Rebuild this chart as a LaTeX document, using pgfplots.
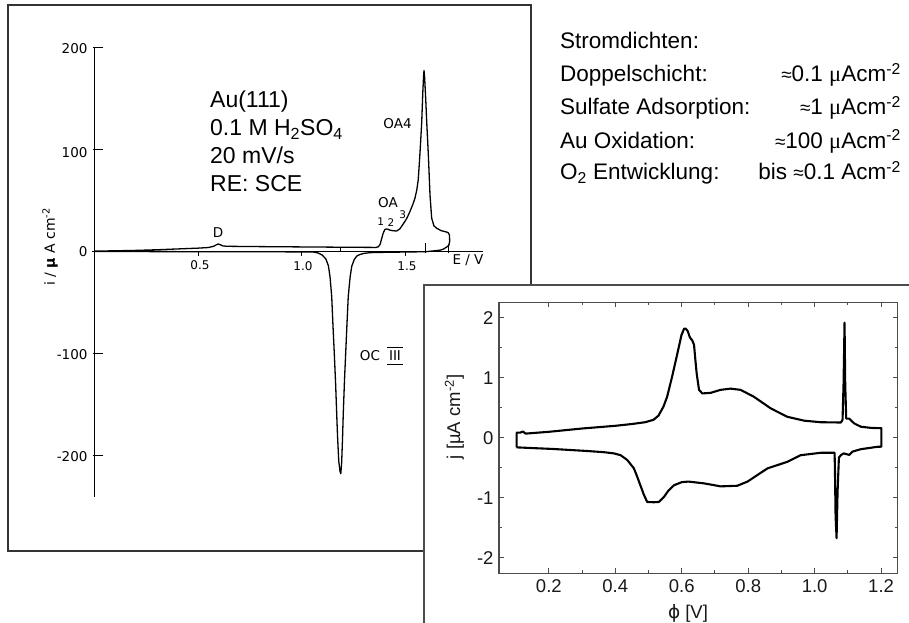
\documentclass[border=0pt]{standalone}
\usepackage{pgfplots}
\pgfplotsset{compat=1.18}
\usepackage{fontspec}
\setmainfont{Liberation Sans}
\newfontfamily\oldfont{DejaVu Sans}
\newfontfamily\serifmu{Liberation Serif}

% cyclic voltammogram of Au(111), large current range
\pgfplotstableread{
E i
0 0.3
0.1 0.6
0.2 1.0
0.3 1.6
0.4 2.4
0.5 3.2
0.55 3.8
0.575 5.0
0.59 6.6
0.598 7.3
0.607 6.6
0.62 5.4
0.64 5.0
0.8 4.7
1.0 4.4
1.2 4.1
1.36 3.9
1.372 4.6
1.38 7
1.388 13
1.395 18
1.403 21.5
1.413 22
1.428 20.8
1.443 20.2
1.46 20
1.475 22
1.492 27
1.508 32
1.524 39
1.538 46
1.548 52
1.557 60
1.564 70
1.570 88
1.575 105
1.581 127
1.586 155
1.590 172
1.592 177
1.595 170
1.600 150
1.605 127
1.613 94
1.621 55
1.629 32.5
1.64 25
1.653 22.7
1.675 20.3
1.693 19.4
1.708 18.5
1.715 16
1.716 10
1.712 6
1.701 4.2
1.685 2.2
1.669 1.2
1.637 0.5
1.6 -0.3
1.5 -0.6
1.4 -0.9
1.33 -1.2
1.30 -2
1.28 -3.2
1.267 -4.6
1.255 -8
1.243 -14.4
1.235 -25
1.226 -44
1.22 -70
1.215 -93
1.208 -125
1.202 -158
1.198 -185
1.194 -207
1.190 -217.5
1.186 -215
1.180 -205
1.174 -180
1.170 -158
1.165 -130
1.159 -102
1.152 -72
1.146 -44
1.138 -25
1.13 -14
1.118 -7.5
1.1 -3.5
1.08 -1.5
1.057 -0.6
0.9 -0.4
0.6 -0.3
0.3 -0.2
0.1 -0.1
0 0
}\auwide

% cyclic voltammogram in the double layer / sulfate region
\pgfplotstableread{
p j
0.103 -0.158
0.103 0.085
0.115 0.088
0.122 0.105
0.13 0.07
0.2 0.1
0.3 0.155
0.4 0.2
0.45 0.23
0.49 0.26
0.515 0.3
0.53 0.37
0.545 0.52
0.556 0.685
0.571 1.02
0.587 1.41
0.599 1.71
0.607 1.82
0.612 1.82
0.618 1.78
0.624 1.68
0.632 1.62
0.637 1.55
0.641 1.3
0.645 1.07
0.652 0.80
0.662 0.74
0.687 0.75
0.717 0.80
0.747 0.82
0.777 0.80
0.817 0.685
0.868 0.49
0.918 0.35
0.968 0.286
1.018 0.26
1.079 0.255
1.084 0.3
1.087 0.9
1.09 1.92
1.092 0.9
1.095 0.32
1.104 0.32
1.119 0.24
1.139 0.185
1.17 0.165
1.201 0.16
1.201 -0.148
1.189 -0.15
1.139 -0.19
1.114 -0.23
1.104 -0.285
1.094 -0.27
1.087 -0.26
1.079 -0.29
1.073 -0.33
1.069 -0.9
1.066 -1.675
1.063 -1.3
1.061 -0.5
1.06 -0.25
1.018 -0.25
0.958 -0.29
0.918 -0.4
0.858 -0.51
0.817 -0.66
0.798 -0.73
0.767 -0.80
0.717 -0.81
0.667 -0.76
0.62 -0.73
0.6 -0.74
0.577 -0.79
0.56 -0.88
0.546 -0.99
0.531 -1.07
0.516 -1.075
0.496 -1.07
0.486 -0.95
0.466 -0.65
0.456 -0.51
0.436 -0.37
0.416 -0.29
0.396 -0.26
0.366 -0.24
0.315 -0.22
0.215 -0.187
0.105 -0.16
0.103 -0.158
}\ausmall

\begin{document}
\begin{tikzpicture}[x=1pt,y=1pt]
\clip (0,0) rectangle (909,622);
\fill[white] (0,0) rectangle (909,622);

% left panel frame
\draw[line width=1.2pt, black!80] (8,617) rectangle (531,71);

\begin{axis}[
  at={(94.5pt,125.3pt)}, anchor=south west,
  scale only axis, width=388.5pt, height=449.7pt,
  xmin=0, xmax=1.877, ymin=-240, ymax=200,
  hide axis, clip=false]
  % axes and hand-placed ticks
  \draw[line width=0.9pt] (axis cs:0,-240) -- (axis cs:0,200);
  \draw[line width=0.9pt] (axis cs:-0.012,0) -- (axis cs:1.877,0);
  \draw[line width=0.8pt] (axis cs:-0.005,-200) -- (axis cs:0.042,-200);
  \draw[line width=0.8pt] (axis cs:-0.005,-100) -- (axis cs:0.042,-100);
  \draw[line width=0.8pt] (axis cs:-0.005,100) -- (axis cs:0.042,100);
  \draw[line width=0.8pt] (axis cs:-0.005,200) -- (axis cs:0.042,200);
  \draw[line width=0.8pt] (axis cs:0.5,0) -- (axis cs:0.5,-4.5);
  \draw[line width=0.8pt] (axis cs:1.0,0) -- (axis cs:1.0,-4.5);
  \draw[line width=0.8pt] (axis cs:1.5,0) -- (axis cs:1.5,-4.5);
  \draw[line width=0.8pt] (axis cs:1.19,0) -- (axis cs:1.19,4.5);
  \draw[line width=0.8pt] (axis cs:1.597,-2) -- (axis cs:1.597,8);
  \draw[line width=0.8pt] (axis cs:1.708,-2) -- (axis cs:1.708,7);
  \addplot[black, line width=1.3pt, line join=round] table[x=E, y=i] {\auwide};
\end{axis}

% left panel lettering
\begin{scope}[font=\oldfont\fontsize{13.5}{14}\selectfont]
  \node[anchor=east] at (91,573) {200};
  \node[anchor=east] at (91,469.3) {100};
  \node[anchor=east] at (91,370) {0};
  \node[anchor=east] at (91,267) {-100};
  \node[anchor=east] at (91,165) {-200};
  \node[font=\oldfont\fontsize{12}{12}\selectfont] at (200,357) {0.5};
  \node[font=\oldfont\fontsize{12}{12}\selectfont] at (303,356) {1.0};
  \node[font=\oldfont\fontsize{12}{12}\selectfont] at (407,356) {1.5};
  \node at (468,362) {E / V};
  \node at (218,389) {D};
  \node at (388,419) {OA};
  \node[font=\oldfont\fontsize{10.5}{10}\selectfont] at (380.7,400.3) {1};
  \node[font=\oldfont\fontsize{10.5}{10}\selectfont] at (391,399) {2};
  \node[font=\oldfont\fontsize{10.5}{10}\selectfont] at (402.7,407) {3};
  \node at (397.5,498) {OA4};
  \node at (370,266) {OC};
  \node at (395,266) {III};
  \draw[line width=0.9pt] (387,275) -- (403,275);
  \draw[line width=0.9pt] (387,258) -- (403,258);
  \node[rotate=90, font=\oldfont\fontsize{14}{14}\selectfont] at (50,375)
    {i / {\bfseries µ} A cm\textsuperscript{-2}};
\end{scope}

% sample conditions
\begin{scope}[font=\fontsize{23}{23}\selectfont]
  \node[anchor=base west, inner sep=0pt] at (210,514.7) {Au(111)};
  \node[anchor=base west, inner sep=0pt] at (210,486) {0.1 M H\textsubscript{2}SO\textsubscript{4}};
  \node[anchor=base west, inner sep=0pt] at (210,458.7) {20 mV/s};
  \node[anchor=base west, inner sep=0pt] at (210,430.3) {RE: SCE};
\end{scope}

% current densities
\begin{scope}[font=\fontsize{22.5}{23}\selectfont]
  \node[anchor=base west, inner sep=0pt] at (560,573.7) {Stromdichten:};
  \node[anchor=base west, inner sep=0pt] at (560,540.3) {Doppelschicht:};
  \node[anchor=base west, inner sep=0pt] at (560,507) {Sulfate Adsorption:};
  \node[anchor=base west, inner sep=0pt] at (560,473.7) {Au Oxidation:};
  \node[anchor=base west, inner sep=0pt] at (560,442) {O\textsubscript{2} Entwicklung:};
  \node[anchor=base east, inner sep=0pt] at (901,540.3) {{\fontsize{19}{19}\selectfont≈}0.1 {\serifmu μ}Acm\textsuperscript{-2}};
  \node[anchor=base east, inner sep=0pt] at (901,507) {{\fontsize{19}{19}\selectfont≈}1 {\serifmu μ}Acm\textsuperscript{-2}};
  \node[anchor=base east, inner sep=0pt] at (901,473.7) {{\fontsize{19}{19}\selectfont≈}100 {\serifmu μ}Acm\textsuperscript{-2}};
  \node[anchor=base east, inner sep=0pt] at (901,442) {bis {\fontsize{19}{19}\selectfont≈}0.1 Acm\textsuperscript{-2}};
\end{scope}

% inset panel
\fill[white] (424,337) rectangle (915,-5);
\draw[line width=1.3pt, black!70] (424,337) rectangle (915,-5);

\begin{axis}[
  at={(499pt,48.7pt)}, anchor=south west,
  scale only axis, width=398.7pt, height=271pt,
  xmin=0.05, xmax=1.25, ymin=-2.26, ymax=2.26,
  xtick={0.2,0.4,0.6,0.8,1.0,1.2},
  xticklabels={0.2,0.4,0.6,0.8,1.0,1.2},
  ytick={-2,-1,0,1,2},
  yticklabels={-2,-1,0,1,2},
  minor x tick num=1, minor y tick num=1,
  tick align=inside, tick pos=both,
  major tick length=5pt, minor tick length=3pt,
  axis line style={line width=1.3pt, black!70},
  every tick/.style={line width=1pt, black!70},
  ticklabel style={font=\fontsize{18.5}{18}\selectfont, text=black!90},
  xticklabel style={yshift=-3pt},
  yticklabel style={xshift=-2pt},
  xlabel={{\oldfont ϕ} [V]},
  ylabel={j [µA cm\textsuperscript{-2}]},
  label style={font=\fontsize{18.5}{18}\selectfont, text=black!90},
  xlabel style={at={(axis description cs:0.474,-0.148)}, anchor=center},
  ylabel style={at={(axis description cs:-0.112,0.577)}, anchor=center},
  clip=false]
  \addplot[black, line width=2.1pt, line join=round] table[x=p, y=j] {\ausmall};
\end{axis}
\end{tikzpicture}
\end{document}
